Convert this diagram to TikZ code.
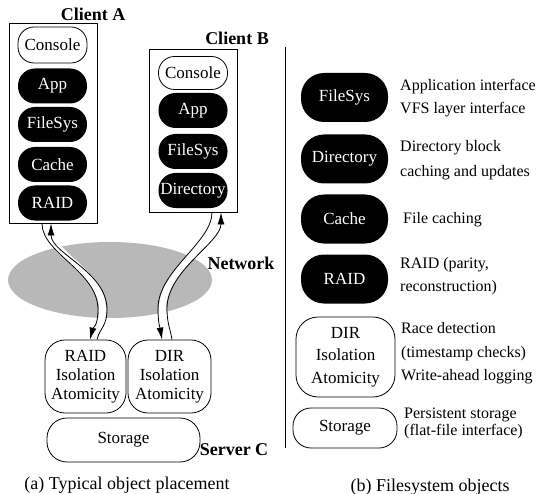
\documentclass[tikz,border=0pt]{standalone}
\usepackage{fontspec}
\setmainfont{Liberation Serif}
\usetikzlibrary{arrows.meta,shapes.geometric}
\definecolor{netgray}{gray}{0.72}
\begin{document}
\begin{tikzpicture}[x=1pt,y=-1pt,
  objfont/.style={font=\fontsize{17}{19}\selectfont},
  blackobj/.style={objfont,fill=black,text=white,rounded corners=17pt,
    minimum width=69pt,minimum height=35pt,inner sep=0pt},
  whiteobj/.style={objfont,draw,line width=0.8pt,rounded corners=16pt,
    minimum width=69pt,minimum height=35pt,inner sep=0pt},
  bigobj/.style={blackobj,rounded corners=23pt,minimum width=87pt,minimum height=49pt},
  txnobj/.style={whiteobj,align=center,rounded corners=20pt},
  hostbox/.style={draw,line width=0.9pt,minimum width=88pt,inner sep=0pt},
  hostlabel/.style={font=\fontsize{18}{20}\selectfont\bfseries,inner sep=0pt},
  desc/.style={anchor=west,align=left,inner sep=0pt},
  caption/.style={font=\fontsize{18}{20}\selectfont,inner sep=0pt},
  msgtip/.tip={Latex[length=12pt,width=7pt]},
  msg/.style={line width=0.8pt},
  gap/.style={white,line width=7pt,shorten <=1pt,shorten >=1pt}]
  \useasboundingbox (0,0) rectangle (537,494);

  % network cloud
  \node[ellipse,fill=netgray,minimum width=204pt,minimum height=76pt,inner sep=0pt] (net) at (110,280) {};

  % client and server objects
  \node[hostbox,minimum height=200pt] (clientA) at (53,123) {};
  \node[hostbox,minimum height=163pt] (clientB) at (193,130.5) {};
  \begin{scope}
  \node[whiteobj,minimum height=36pt] (conA) at (52.5,45) {Console};
  \node[blackobj] (appA) at (52.5,86) {App};
  \node[blackobj] (fsA) at (52.5,124.5) {FileSys};
  \node[blackobj] (cacheA) at (52.5,164.5) {Cache};
  \node[blackobj] (raidA) at (52.5,203) {RAID};
  \node[whiteobj,minimum height=33pt] (conB) at (193,73) {Console};
  \node[blackobj] (appB) at (193,110.5) {App};
  \node[blackobj] (fsB) at (193,151.5) {FileSys};
  \node[blackobj] (dirB) at (193,190.5) {Directory};
  \node[txnobj,minimum width=81pt,minimum height=73pt] (srvraid) at (85.5,376.5) {RAID\\Isolation\\Atomicity};
  \node[txnobj,minimum width=83pt,minimum height=73pt] (srvdir) at (169.5,376.5) {DIR\\Isolation\\Atomicity};
  \node[whiteobj,rounded corners=20pt,minimum width=153pt,minimum height=44pt] (srvstore) at (123.5,440) {Storage};
  \end{scope}

  \node[hostlabel] (lblA) at (93,14) {Client A};
  \node[hostlabel] (lblB) at (237,38) {Client B};
  \node[hostlabel] (lblnet) at (241,263) {Network};
  \node[hostlabel] (lblC) at (234,450) {Server C};

  % messages across the network
  \draw[gap] ([xshift=-6.5pt]clientA.south) .. controls +(0,30) and +(0,-38) .. ++(56,86)
    .. controls +(0,17) and +(3,-12) .. ([xshift=8pt]srvraid.north);
  \draw[msg,-msgtip] ([xshift=-11pt]clientA.south) .. controls +(0,30) and +(0,-38) .. ++(56,86)
    .. controls +(0,17) and +(3,-12) .. ([xshift=4.5pt]srvraid.north);
  \draw[msg,msgtip-] ([xshift=-2pt]clientA.south) .. controls +(0,30) and +(0,-38) .. ++(56,86)
    .. controls +(0,17) and +(3,-12) .. ([xshift=11.5pt]srvraid.north);
  \draw[gap] ([xshift=23.5pt]clientB.south) .. controls +(0,30) and +(0,-38) .. ++(-54,96)
    .. controls +(0,15) and +(-2,-12) .. ([xshift=-2.5pt]srvdir.north);
  \draw[msg,-msgtip] ([xshift=19pt]clientB.south) .. controls +(0,30) and +(0,-38) .. ++(-54,96)
    .. controls +(0,15) and +(-2,-12) .. ([xshift=-7.5pt]srvdir.north);
  \draw[msg,msgtip-] ([xshift=28pt]clientB.south) .. controls +(0,30) and +(0,-38) .. ++(-54,96)
    .. controls +(0,15) and +(-2,-12) .. ([xshift=2.5pt]srvdir.north);

  % divider
  \draw[line width=0.8pt] (285,46.7) -- (285,448);

  % object legend
  \begin{scope}
  \node[bigobj] (fsR) at (344.5,97.5) {FileSys};
  \node[bigobj] (dirR) at (344.5,159) {Directory};
  \node[bigobj] (cacheR) at (344.5,219) {Cache};
  \node[bigobj] (raidR) at (344.5,279) {RAID};
  \node[txnobj,rounded corners=22pt,minimum width=99pt,minimum height=80pt,
    font=\fontsize{17}{22.5}\selectfont] (dirobjR) at (345.5,357) {DIR\\Isolation\\Atomicity};
  \node[whiteobj,rounded corners=18pt,minimum width=104pt,minimum height=40pt] (storeR) at (345,428) {Storage};
  \end{scope}
  \begin{scope}[every node/.append style={font=\fontsize{16}{23}\selectfont}]
  \node[desc] (fsdesc) at (400,98.5) {Application interface\\VFS layer interface};
  \node[desc,font=\fontsize{16}{25}\selectfont] (dirdesc) at (400,160.5) {Directory block\\caching and updates};
  \node[desc] (cachedesc) at (403,220) {File caching};
  \node[desc] (raiddesc) at (400,276.5) {RAID (parity,\\reconstruction)};
  \node[desc,font=\fontsize{16}{23.5}\selectfont] (dirobjdesc) at (401,353.5) {Race detection\\(timestamp checks)\\Write-ahead logging};
  \node[desc,font=\fontsize{16}{17}\selectfont] (storedesc) at (404,423.5) {Persistent storage\\(flat-file interface)};
  \end{scope}

  \node[caption] (capA) at (127,485) {(a) Typical object placement};
  \node[caption] (capB) at (430,487) {(b) Filesystem objects};
\end{tikzpicture}
\end{document}
